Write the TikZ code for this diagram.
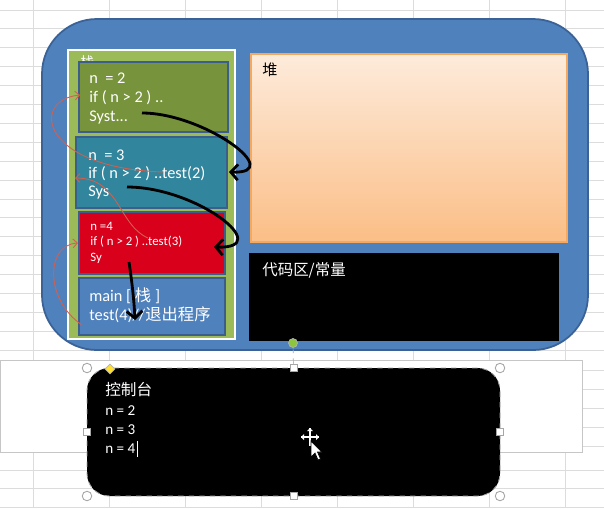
\documentclass[tikz,border=0pt]{standalone}
\usepackage{fontspec}
\setmainfont{Carlito}
\newfontfamily\cjk{Noto Sans CJK SC}
\usetikzlibrary{fit,arrows.meta,shapes.geometric}
\definecolor{gridc}{HTML}{DCDCDC}
\definecolor{memblue}{HTML}{4F81BD}
\definecolor{memedge}{HTML}{3A6296}
\definecolor{stackgreen}{HTML}{9BBB59}
\definecolor{boxolive}{HTML}{77933C}
\definecolor{boxteal}{HTML}{31859C}
\definecolor{boxred}{HTML}{D9001B}
\definecolor{boxedge}{HTML}{3B5E8C}
\definecolor{heaptop}{HTML}{FDEBDB}
\definecolor{heapbot}{HTML}{FBBE86}
\definecolor{heapedge}{HTML}{F5A860}
\definecolor{redline}{HTML}{D2604F}
\definecolor{rotgreen}{HTML}{8CC63F}
\definecolor{adjyellow}{HTML}{FFE033}
\begin{document}
\begin{tikzpicture}[x=0.02cm, y=-0.02cm,
  region/.style={inner sep=0pt, outer sep=0pt},
  stackbox/.style={region, draw=boxedge, line width=1.1pt},
  wtxt/.style={text=white, anchor=west, inner sep=0pt, font=\fontsize{9.3}{11}\selectfont},
  stxt/.style={wtxt, font=\fontsize{7.3}{9}\selectfont},
  flow/.style={draw=black, line width=1.6pt, -{Straight Barb[length=4pt,width=9pt]}},
  back/.style={draw=redline, line width=0.5pt, -{Straight Barb[length=2.5pt,width=5pt]}},
  handlec/.style={circle, draw=gray!70, fill=white, minimum size=0.19cm, inner sep=0pt, line width=0.5pt},
  handles/.style={rectangle, draw=gray!70, fill=white, minimum size=0.14cm, inner sep=0pt, line width=0.5pt}]
\useasboundingbox (0,0) rectangle (604,508);
\fill[white] (0,0) rectangle (604,508);
% spreadsheet grid
\foreach \k in {0,...,18} {\draw[gridc, line width=0.5pt] (0,{10+18.9*\k}) -- (604,{10+18.9*\k});}
\foreach \yy in {370,389,408,427,446,470,488.5,507} {\draw[gridc, line width=0.5pt] (0,\yy) -- (604,\yy);}
\foreach \k in {0,...,7} {\draw[gridc, line width=0.5pt] ({33+76*\k},0) -- ({33+76*\k},508);}

% memory frame
\node[region, fit={(42,19) (588,350)}, rounded corners=1.1cm, fill=memblue, draw=memedge, line width=1pt] (mem) {};
% stack panel
\node[region, fit={(68,50) (235,339)}, fill=stackgreen, draw=white, line width=1.6pt] (stack) {};
\node[anchor=north west, inner sep=0pt, text=white, font=\cjk\fontsize{8}{9}\selectfont] (stacklbl) at (80,55) {栈};

% stack frames
\node[stackbox, fit={(79,62) (228,132)}, fill=boxolive] (b1) {};
\node[stackbox, fit={(76,137) (227,208)}, fill=boxteal] (b2) {};
\node[stackbox, fit={(79,212) (225,274)}, fill=boxred] (b3) {};
\node[stackbox, fit={(79,278) (225,335)}, fill=memblue] (b4) {};

\node[wtxt] (t11) at (89,78) {n\ \ = 2};
\node[wtxt] (t12) at (89,98) {if ( n > 2 ) ..};
\node[wtxt] (t13) at (89,118) {Syst...};
\node[wtxt] (t21) at (88,155) {n\ \ = 3};
\node[wtxt] (t22) at (88,174) {if ( n > 2 ) ..test(2)};
\node[wtxt] (t23) at (88,193) {Sys};
\node[stxt] (t31) at (90,226) {n =4};
\node[stxt] (t32) at (90,242) {if ( n > 2 ) ..test(3)};
\node[stxt] (t33) at (90,258) {Sy};
\node[wtxt] (t41) at (89,296) {main [ {\cjk 栈} ]};
\node[wtxt] (t42) at (89,315) {test(4)//{\cjk 退出程序}};

% heap and code area
\node[region, fit={(251,54) (567,242)}, top color=heaptop, bottom color=heapbot, draw=heapedge, line width=0.6pt] (heap) {};
\node[anchor=west, inner sep=0pt, font=\cjk\fontsize{8.6}{10}\selectfont] (heaplbl) at (262,70) {堆};
\node[region, fit={(249,253) (559,341)}, fill=black] (code) {};
\node[anchor=west, inner sep=0pt, text=white, font=\cjk\fontsize{8.8}{10}\selectfont] (codelbl) at (262,270) {代码区/常量};

% recursion arrows
\coordinate (a1s) at (142,113);
\coordinate (a1e) at (229,172);
\coordinate (a2s) at (127,187);
\coordinate (a2e) at (214,247);
\coordinate (a3s) at (129,262);
\coordinate (a3e) at (135,320);
\draw[flow] (a1s) .. controls +(62,0) and +(58,2) .. (a1e);
\draw[flow] (a2s) .. controls +(70,0) and +(62,2) .. (a2e);
\draw[flow] (a3s) .. controls +(3,20) and +(-1,-20) .. (a3e);

% return arrows
\coordinate (r1s) at (163,172);
\coordinate (r1e) at (80,95);
\coordinate (r2s) at (148,238);
\coordinate (r2e) at (75,178);
\coordinate (r3s) at (82,325);
\coordinate (r3e) at (78,243);
\draw[back] (r1s) .. controls (40,168) and (30,100) .. (r1e);
\draw[back] (r2s) .. controls (118,225) and (120,178) .. (r2e);
\draw[back] (r3s) .. controls (45,300) and (45,245) .. (r3e);

% cell box behind console
\node[region, fit={(0,360) (582,452)}, fill=white, draw=gray!45, line width=0.5pt] (cell) {};

% console
\node[region, fit={(87,368) (500,496)}, rounded corners=0.45cm, fill=black, draw=gray!70, dashed, line width=0.5pt] (console) {};
\node[anchor=west, inner sep=0pt, text=white, font=\cjk\fontsize{8.9}{10}\selectfont] (c0) at (105,390) {控制台};
\node[wtxt, font=\fontsize{8.6}{10}\selectfont] (c1) at (105,411) {n = 2};
\node[wtxt, font=\fontsize{8.6}{10}\selectfont] (c2) at (105,430) {n = 3};
\node[wtxt, font=\fontsize{8.6}{10}\selectfont] (c3) at (105,449) {n = 4};
\draw[white, line width=0.7pt] (c3.east) ++(1.5,-8) -- ++(0,16);

% selection handles
\node[handlec] (hnw) at (console.north west) {};
\node[handlec] (hne) at (console.north east) {};
\node[handlec] (hsw) at (console.south west) {};
\node[handlec] (hse) at (console.south east) {};
\node[handles] (hn) at (console.north) {};
\node[handles] (hs) at (console.south) {};
\node[handles] (hw) at (console.west) {};
\node[handles] (he) at (console.east) {};
\node[circle, draw=gray!60, fill=rotgreen, minimum size=0.18cm, inner sep=0pt] (rot) at (293,343) {};
\draw[gray!70, dashed, line width=0.4pt] (rot) -- (hn);
\node[diamond, draw=gray!60, fill=adjyellow, minimum size=0.2cm, inner sep=0pt] (adj) at (110,369) {};

% mouse pointer
\draw[white, line width=0.6pt] (301,437) -- (319,437) (310,428) -- (310,446);
\fill[white] (301,437) -- (304,434) -- (304,440) -- cycle;
\fill[white] (319,437) -- (316,434) -- (316,440) -- cycle;
\fill[white] (310,428) -- (307,431) -- (313,431) -- cycle;
\draw[black, fill=white, line width=0.4pt] (311,441) -- (311,457) -- (315,453) -- (318,460) -- (320.5,459) -- (317.5,452) -- (322,452) -- cycle;
\end{tikzpicture}
\end{document}
